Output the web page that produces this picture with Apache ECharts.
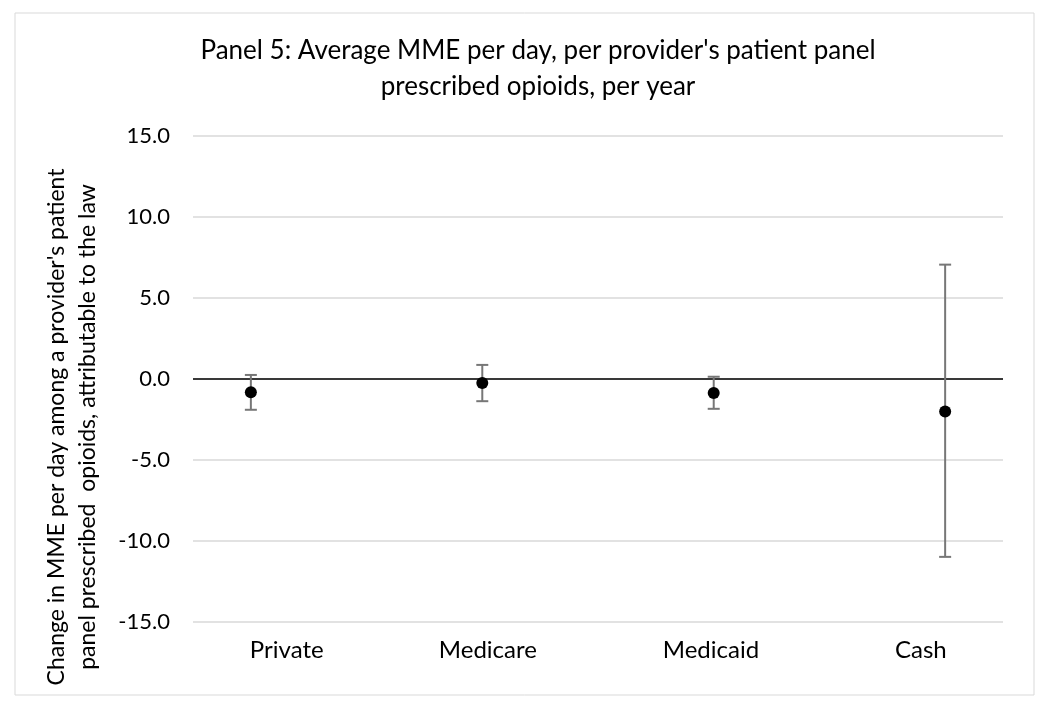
<!DOCTYPE html>
<html>
<head>
<meta charset="utf-8">
<script src="https://cdn.jsdelivr.net/npm/echarts@6/dist/echarts.min.js"></script>
<style>
  html, body { margin: 0; padding: 0; background: #ffffff; }
  #chart { width: 1050px; height: 710px; }
</style>
</head>
<body>
<div id="chart"></div>
<script>
// ---- data ----
const categories = ['Private', 'Medicare', 'Medicaid', 'Cash'];
const categoryX = [1, 2, 3, 4];
const estimates = [-0.82, -0.25, -0.86, -2.0];
const lowerCI = [-1.90, -1.37, -1.84, -10.98];
const upperCI = [0.25, 0.87, 0.14, 7.06];
const labelPositions = [1.155, 2.024, 2.988, 3.895];
const yTicks = [-15, -10, -5, 0, 5, 10, 15];

const titleText = "Panel 5: Average MME per day, per provider's patient panel\nprescribed opioids, per year";
const yTitle = "Change in MME per day among a provider's patient\npanel prescribed  opioids, attributable to the law";

const FONT = 'Lato';

const chart = echarts.init(document.getElementById('chart'), null, { renderer: 'canvas' });

const pointData = categoryX.map((x, i) => [x, estimates[i]]);
const ciData = categoryX.map((x, i) => [x, lowerCI[i], upperCI[i]]);

const option = {
  backgroundColor: '#ffffff',
  animation: false,
  title: {
    text: titleText,
    left: 533,
    textAlign: 'center',
    top: 28,
    textStyle: { fontFamily: FONT, fontSize: 26, fontWeight: 'normal', color: '#000000', lineHeight: 36 }
  },
  graphic: [
    {
      type: 'rect',
      shape: { x: 15, y: 13, width: 1019, height: 682 },
      style: { fill: 'none', stroke: '#d9d9d9', lineWidth: 1 },
      silent: true,
      z: -10
    },
    {
      type: 'text',
      x: 72, y: 427,
      rotation: Math.PI / 2,
      style: {
        text: yTitle,
        fontFamily: FONT, fontSize: 23, fill: '#000000',
        align: 'center', verticalAlign: 'middle', lineHeight: 31
      },
      silent: true
    }
  ],
  grid: { left: 193, right: 47, top: 136, bottom: 88, containLabel: false },
  xAxis: {
    type: 'value',
    min: 0.75,
    max: 4.25,
    axisLine: { show: false },
    axisTick: { show: false },
    splitLine: { show: false },
    axisLabel: {
      customValues: labelPositions,
      formatter: function (v) {
        const idx = labelPositions.findIndex(p => Math.abs(p - v) < 1e-6);
        return idx >= 0 ? categories[idx] : '';
      },
      margin: 16,
      fontFamily: FONT, fontSize: 24, color: '#000000'
    }
  },
  yAxis: {
    type: 'value',
    min: yTicks[0],
    max: yTicks[yTicks.length - 1],
    interval: 5,
    axisLine: { show: false },
    axisTick: { show: false },
    splitLine: { show: true, lineStyle: { color: '#d9d9d9', width: 1.5 } },
    axisLabel: {
      formatter: v => v.toFixed(1),
      margin: 23,
      fontFamily: FONT, fontSize: 22, color: '#000000'
    }
  },
  series: [
    {
      type: 'custom',
      name: 'CI',
      data: ciData,
      z: 3,
      renderItem: function (params, api) {
        const x = api.value(0);
        const lo = api.coord([x, api.value(1)]);
        const hi = api.coord([x, api.value(2)]);
        const half = 6;
        const st = { stroke: '#777777', lineWidth: 2 };
        return {
          type: 'group',
          children: [
            { type: 'line', shape: { x1: lo[0], y1: lo[1], x2: hi[0], y2: hi[1] }, style: st },
            { type: 'line', shape: { x1: lo[0] - half, y1: lo[1], x2: lo[0] + half, y2: lo[1] }, style: st },
            { type: 'line', shape: { x1: hi[0] - half, y1: hi[1], x2: hi[0] + half, y2: hi[1] }, style: st }
          ]
        };
      }
    },
    {
      type: 'scatter',
      name: 'Estimate',
      data: pointData,
      symbol: 'circle',
      symbolSize: 12,
      itemStyle: { color: '#000000', opacity: 1 },
      z: 5,
      markLine: {
        silent: true,
        symbol: ['none', 'none'],
        label: { show: false },
        lineStyle: { color: '#000000', width: 1.5, type: 'solid' },
        data: [{ yAxis: 0 }],
        z: 2
      }
    }
  ]
};

chart.setOption(option);
</script>
</body>
</html>
